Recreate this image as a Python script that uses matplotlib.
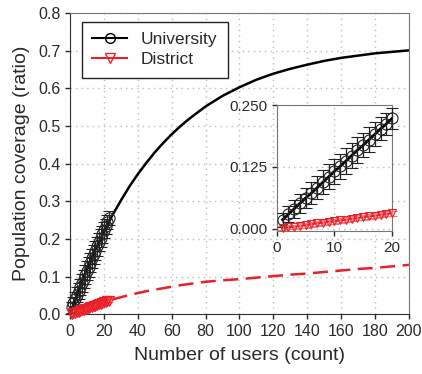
import numpy as np
import matplotlib.pyplot as plt
from matplotlib.lines import Line2D

plt.rcParams['font.family'] = ['Liberation Sans', 'DejaVu Sans']

# fitted curves
curve_x = [0, 5, 10, 15, 20, 25, 30, 35, 40, 45, 50, 55, 60, 65, 70, 75, 80, 90,
           100, 110, 120, 130, 140, 150, 160, 170, 180, 190, 200]
univ_curve = [0.0, 0.063, 0.120, 0.172, 0.219, 0.263, 0.302, 0.339, 0.372, 0.402,
              0.430, 0.455, 0.478, 0.499, 0.518, 0.535, 0.552, 0.580,
              0.603, 0.623, 0.639, 0.652, 0.663, 0.673, 0.681, 0.687, 0.693, 0.697, 0.701]
dist_curve = [0.0, 0.009, 0.018, 0.025, 0.032, 0.039, 0.045, 0.051, 0.056, 0.061,
              0.065, 0.069, 0.073, 0.077, 0.080, 0.083, 0.086, 0.090,
              0.093, 0.097, 0.101, 0.105, 0.108, 0.112, 0.116, 0.120, 0.123, 0.127, 0.131]

# measured points
users = [1, 2, 3, 4, 5, 6, 7, 8, 9, 10, 11, 12, 13, 14, 15, 16, 17, 18, 19, 20, 21, 22, 23]
univ_pts = [0.018, 0.029, 0.040, 0.051, 0.062, 0.072, 0.083, 0.094, 0.105, 0.116,
            0.126, 0.137, 0.148, 0.159, 0.169, 0.180, 0.191, 0.202, 0.212, 0.223,
            0.234, 0.245, 0.255]
univ_err = [0.014, 0.016, 0.018, 0.020, 0.021, 0.022, 0.023, 0.024, 0.025, 0.025,
            0.026, 0.026, 0.026, 0.026, 0.025, 0.025, 0.024, 0.023, 0.022, 0.021,
            0.020, 0.019, 0.018]
dist_pts = [0.001, 0.003, 0.004, 0.006, 0.007, 0.009, 0.011, 0.012, 0.014, 0.015,
            0.017, 0.018, 0.020, 0.022, 0.023, 0.025, 0.026, 0.028, 0.030, 0.031,
            0.033, 0.034, 0.036]
dist_err = [0.004, 0.004, 0.004, 0.005, 0.005, 0.005, 0.005, 0.005, 0.005, 0.005,
            0.005, 0.005, 0.005, 0.005, 0.005, 0.005, 0.005, 0.005, 0.005, 0.005,
            0.005, 0.005, 0.005]

txt = '#2a2a2a'
red = '#e8202a'
pink = '#f27a7a'

fig = plt.figure(figsize=(4.22, 3.74), dpi=100)
ax = fig.add_axes([0.166, 0.160, 0.803, 0.805])

ax.plot(curve_x, univ_curve, color='black', lw=1.8, zorder=3)
ax.plot(curve_x, dist_curve, color=red, lw=1.8, dashes=(6, 3), zorder=3)
ax.errorbar(users, univ_pts, yerr=univ_err, fmt='o', mfc='none', mec='#222222',
            ms=8, mew=0.8, ecolor='#222222', elinewidth=0.8, capsize=4,
            zorder=4, clip_on=False)
ax.errorbar(users, dist_pts, yerr=dist_err, fmt='v', mfc='none', mec=red,
            ms=6.5, mew=0.9, ecolor=pink, elinewidth=1.0, capsize=3,
            zorder=4, clip_on=False)

ax.set_xlim(0, 200)
ax.set_ylim(0, 0.8)
ax.set_xticks(np.arange(0, 201, 20))
ax.set_yticks(np.arange(0, 0.81, 0.1))
ax.set_yticklabels(['%.1f' % v for v in np.arange(0, 0.81, 0.1)])
ax.grid(True, color='#bbbbbb', linestyle=(0, (1, 3)), lw=1.0)
ax.set_axisbelow(True)
ax.tick_params(labelsize=11.5, colors=txt, direction='out', length=3.5, width=1)
for s in ['left', 'bottom']:
    ax.spines[s].set_color('#333333')
for s in ['top', 'right']:
    ax.spines[s].set_color('#777777')
ax.set_xlabel('Number of users (count)', fontsize=14, color=txt, labelpad=6)
ax.set_ylabel('Population coverage (ratio)', fontsize=14, color=txt, labelpad=6)

handles = [Line2D([], [], color='black', lw=1.5, marker='o', mfc='none', ms=7),
           Line2D([], [], color=red, lw=1.5, marker='v', mfc='none', ms=7)]
leg = ax.legend(handles, ['University', 'District'], loc='upper left',
                bbox_to_anchor=(0.035, 0.972), borderaxespad=0, fontsize=12.5,
                fancybox=False, framealpha=1, edgecolor='#222222',
                handlelength=2.0, borderpad=0.6, labelspacing=0.3)
leg.get_frame().set_linewidth(1.0)
for t in leg.get_texts():
    t.set_color(txt)

# inset
ins = fig.add_axes([0.656, 0.382, 0.273, 0.337])
ins.plot(users[:20], univ_pts[:20], color='black', lw=2.0, zorder=3)
ins.errorbar(users[:20], univ_pts[:20], yerr=univ_err[:20], fmt='o', mfc='none',
             mec='#222222', ms=8, mew=0.8, ecolor='#222222', elinewidth=0.9,
             capsize=4.5, zorder=4, clip_on=False)
ins.plot(users[:20], dist_pts[:20], color=red, lw=1.5, zorder=3)
ins.errorbar(users[:20], dist_pts[:20], yerr=dist_err[:20], fmt='v', mfc='none',
             mec=red, ms=6, mew=0.8, ecolor=pink, elinewidth=1.0,
             capsize=3.5, zorder=4, clip_on=False)
ins.set_xlim(0, 20)
ins.set_ylim(-0.005, 0.25)
ins.set_xticks([0, 10, 20])
ins.set_yticks([0, 0.125, 0.25])
ins.set_yticklabels(['0.000', '0.125', '0.250'])
ins.grid(True, color='#bbbbbb', linestyle=(0, (1, 3)), lw=1.0)
ins.set_axisbelow(True)
ins.tick_params(labelsize=11, colors=txt, direction='out', length=3.5, width=1)
for s in ins.spines.values():
    s.set_color('#777777')

fig.savefig('out.png', dpi=100)
